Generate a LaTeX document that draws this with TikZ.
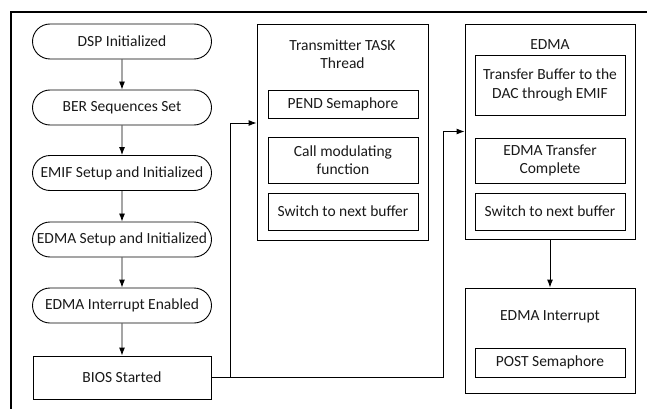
\documentclass[tikz,border=0pt]{standalone}
\usepackage{fontspec}
\setmainfont{Carlito}
\usetikzlibrary{shapes.misc,arrows.meta}
\begin{document}
\begin{tikzpicture}[x=1pt,y=-1pt,
        every node/.style={font=\fontsize{15.5}{18.5}\selectfont, text=black!90},
        stepround/.style={draw, rounded rectangle, line width=0.9pt, minimum width=179pt, minimum height=35pt, inner sep=0pt},
        stepbox/.style={draw, rectangle, line width=0.9pt, minimum width=150pt, inner sep=0pt, align=center},
        group/.style={draw, rectangle, line width=0.9pt, minimum width=171pt, inner sep=0pt},
        arr/.style={draw, line width=0.9pt, -{Latex[length=8pt,width=6pt]}}]
        \useasboundingbox (0,0) rectangle (647,409);
        \draw[line width=2pt] (10.5,409) -- (10.5,12) -- (647,12);

        \node[stepround] (dsp) at (122,41.5) {DSP Initialized};
        \node[stepround] (ber) at (122,107.5) {BER Sequences Set};
        \node[stepround] (emif) at (122,173) {EMIF Setup and Initialized};
        \node[stepround] (edmaset) at (122,239.5) {EDMA Setup and Initialized};
        \node[stepround] (edmaen) at (122,305.5) {EDMA Interrupt Enabled};
        \node[draw, rectangle, line width=0.9pt, minimum width=178pt, minimum height=43pt] (bios) at (122,377.5) {BIOS Started};

        \node[group, minimum height=216pt] (task) at (342.5,132) {};
        \node[align=center] (tasktitle) at (342.5,54) {Transmitter TASK\\Thread};
        \node[stepbox, minimum height=28pt] (pend) at (343,104) {PEND Semaphore};
        \node[stepbox, minimum height=46pt] (call) at (343,160) {Call modulating\\function};
        \node[stepbox, minimum height=37pt] (swtask) at (343,211.5) {Switch to next buffer};

        \node[group, minimum height=215pt, minimum width=170pt] (edma) at (550,131.5) {};
        \node (edmatitle) at (550,45) {EDMA};
        \node[stepbox, minimum height=60pt] (xfer) at (550,85) {Transfer Buffer to the\\DAC through EMIF};
        \node[stepbox, minimum height=45pt] (done) at (550,160.5) {EDMA Transfer\\Complete};
        \node[stepbox, minimum height=37pt] (swedma) at (550,211.5) {Switch to next buffer};

        \node[group, minimum height=105pt, minimum width=170pt] (isr) at (550,340.5) {};
        \node (isrtitle) at (550,317) {EDMA Interrupt};
        \node[stepbox, minimum height=29pt] (post) at (550,362.5) {POST Semaphore};

        \coordinate (j1) at (230,377.5);
        \coordinate (j2) at (443,377.5);

        \path[arr] (dsp) -- (ber);
        \path[arr] (ber) -- (emif);
        \path[arr] (emif) -- (edmaset);
        \path[arr] (edmaset) -- (edmaen);
        \path[arr] (edmaen) -- (bios);
        \path[arr] (bios.east) -- (j1) |- ([yshift=9pt]task.west);
        \path[arr] (j1) -- (j2) |- (edma.west);
        \path[arr] (edma) -- (isr);
    \end{tikzpicture}
\end{document}
